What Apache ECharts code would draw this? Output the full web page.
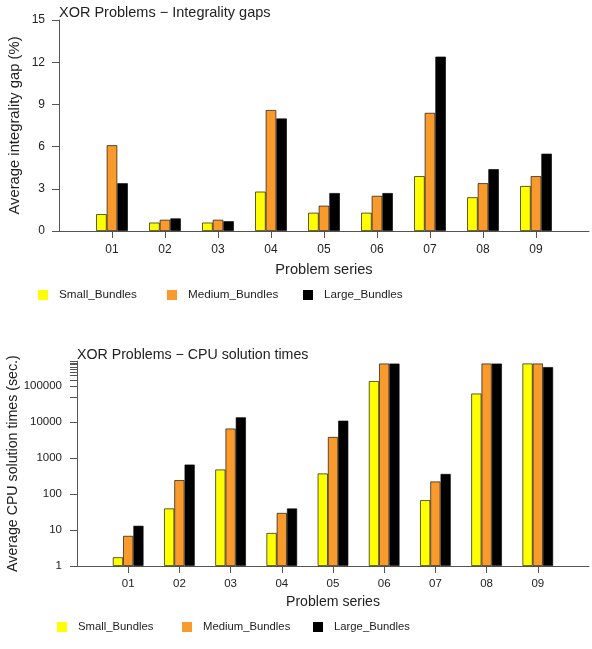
<!DOCTYPE html>
<html>
<head>
<meta charset="utf-8">
<script src="https://cdn.jsdelivr.net/npm/echarts@6/dist/echarts.min.js"></script>
<style>
html,body{margin:0;padding:0;background:#fff;}
#chart{width:592px;height:649px;}
</style>
</head>
<body>
<div id="chart"></div>
<script>
// ---- data ----
const categories = ['01', '02', '03', '04', '05', '06', '07', '08', '09'];
const seriesNames = ['Small_Bundles', 'Medium_Bundles', 'Large_Bundles'];

// Integrality gaps (%)
const gapSmall  = [1.2, 0.6, 0.6, 2.8, 1.3, 1.3, 3.9, 2.4, 3.2];
const gapMedium = [6.1, 0.8, 0.8, 8.6, 1.8, 2.5, 8.4, 3.4, 3.9];
const gapLarge  = [3.4, 0.9, 0.7, 8.0, 2.7, 2.7, 12.4, 4.4, 5.5];

// CPU solution times (sec.)
const cpuSmall  = [1.75, 40, 485, 8.3, 376, 140000, 68, 63000, 432000];
const cpuMedium = [6.9, 245, 6700, 30, 3900, 432000, 225, 432000, 432000];
const cpuLarge  = [13.2, 668, 13800, 40, 11100, 432000, 365, 432000, 344000];

// tick values
const gapTicks = [0, 3, 6, 9, 12, 15];
const cpuLabelTicks = [1, 10, 100, 1000, 10000, 100000];
const cpuTickValues = [1, 10, 100, 1000, 10000, 50000, 100000, 150000, 200000, 250000,
                       300000, 350000, 400000, 450000, 500000];
const catPositions = [1, 2, 3, 4, 5, 6, 7, 8, 9];

// ---- styles ----
const colors = ['#FFFF00', '#F99A2C', '#000000'];
const textColor = '#222';
const axisColor = '#555';
const FONT = 'Liberation Sans, Arial, sans-serif';

const toPoints = arr => arr.map((v, i) => [catPositions[i], v]);

function xAxisFor(gridIndex, fontSize, nameSize, margin, nameGap) {
  return {
    type: 'value', gridIndex: gridIndex, min: 0, max: 10, interval: 1,
    name: 'Problem series', nameLocation: 'middle', nameGap: nameGap,
    nameTextStyle: {fontSize: nameSize, color: textColor, fontFamily: FONT},
    axisLine: {show: true, onZero: false, lineStyle: {color: axisColor, width: 1}},
    axisTick: {show: true, length: 7, lineStyle: {color: axisColor}, customValues: catPositions},
    axisLabel: {
      show: true, margin: margin, fontSize: fontSize, color: textColor, fontFamily: FONT,
      customValues: catPositions,
      formatter: v => categories[Math.round(v) - 1] || ''
    },
    splitLine: {show: false}
  };
}

const legendDefs = [
  // top chart legends
  {x: 38, y: 289, fs: 11.7, i: 0},
  {x: 167, y: 289, fs: 11.7, i: 1},
  {x: 303, y: 289, fs: 11.7, i: 2},
  // bottom chart legends
  {x: 57, y: 621.5, fs: 11.3, i: 0},
  {x: 182, y: 621.5, fs: 11.3, i: 1},
  {x: 313, y: 621.5, fs: 11.3, i: 2}
];

const option = {
  backgroundColor: '#fff',
  animation: false,
  title: [
    {text: 'XOR Problems \u2212 Integrality gaps', left: 59, top: 5.5, padding: 0,
     textStyle: {fontSize: 14.5, fontWeight: 'normal', color: textColor, fontFamily: FONT}},
    {text: 'XOR Problems \u2212 CPU solution times', left: 77, top: 348, padding: 0,
     textStyle: {fontSize: 14.2, fontWeight: 'normal', color: textColor, fontFamily: FONT}}
  ],
  legend: legendDefs.map(d => ({
    left: d.x, top: d.y, padding: 0, orient: 'horizontal',
    data: [seriesNames[d.i]], icon: 'rect', itemWidth: 10, itemHeight: 10,
    selectedMode: false,
    itemStyle: {borderWidth: 0},
    textStyle: {fontSize: d.fs, color: textColor, fontFamily: FONT, padding: [0, 0, 0, 6]}
  })),
  grid: [
    {left: 59, right: 3, top: 20, height: 211, outerBoundsMode: 'none', containLabel: false},
    {left: 77, right: 3, top: 361.2, height: 204.8, outerBoundsMode: 'none', containLabel: false}
  ],
  xAxis: [
    xAxisFor(0, 12, 14.6, 13, 31),
    xAxisFor(1, 11.5, 14.1, 12, 29)
  ],
  yAxis: [
    {
      type: 'value', gridIndex: 0, min: 0, max: 15, interval: 3,
      name: 'Average integrality gap (%)', nameLocation: 'middle', nameGap: 37,
      nameMoveOverlap: false,
      nameTextStyle: {fontSize: 14.8, color: textColor, fontFamily: FONT},
      axisLine: {show: true, onZero: false, lineStyle: {color: axisColor, width: 1}},
      axisTick: {show: true, length: 7, lineStyle: {color: axisColor}, customValues: gapTicks},
      axisLabel: {margin: 14, fontSize: 12, color: textColor, fontFamily: FONT, customValues: gapTicks},
      splitLine: {show: false}
    },
    {
      type: 'log', logBase: 10, gridIndex: 1, min: 1, max: 500000,
      name: 'Average CPU solution times (sec.)', nameLocation: 'middle', nameGap: 57,
      nameMoveOverlap: false,
      nameTextStyle: {fontSize: 14.2, color: textColor, fontFamily: FONT},
      axisLine: {show: true, onZero: false, lineStyle: {color: axisColor, width: 1}},
      axisTick: {show: true, length: 7, lineStyle: {color: axisColor}, customValues: cpuTickValues},
      axisLabel: {margin: 15, fontSize: 11.5, color: textColor, fontFamily: FONT,
                  customValues: cpuLabelTicks, formatter: v => String(Math.round(v))},
      splitLine: {show: false},
      minorTick: {show: false}
    }
  ],
  series: []
};

const gapData = [gapSmall, gapMedium, gapLarge];
const cpuData = [cpuSmall, cpuMedium, cpuLarge];
const barBorder = {borderColor: 'rgba(0,0,0,0.8)', borderWidth: 0.8};

gapData.forEach((arr, k) => {
  option.series.push({
    type: 'bar', name: seriesNames[k], xAxisIndex: 0, yAxisIndex: 0,
    data: toPoints(arr), barWidth: 10.6, barGap: '0%',
    itemStyle: Object.assign({color: colors[k]}, barBorder)
  });
});
cpuData.forEach((arr, k) => {
  option.series.push({
    type: 'bar', name: seriesNames[k], xAxisIndex: 1, yAxisIndex: 1,
    data: toPoints(arr), barWidth: 10.24, barGap: '0%',
    itemStyle: Object.assign({color: colors[k]}, barBorder)
  });
});

const chart = echarts.init(document.getElementById('chart'), null, {renderer: 'canvas'});
chart.setOption(option);
</script>
</body>
</html>
